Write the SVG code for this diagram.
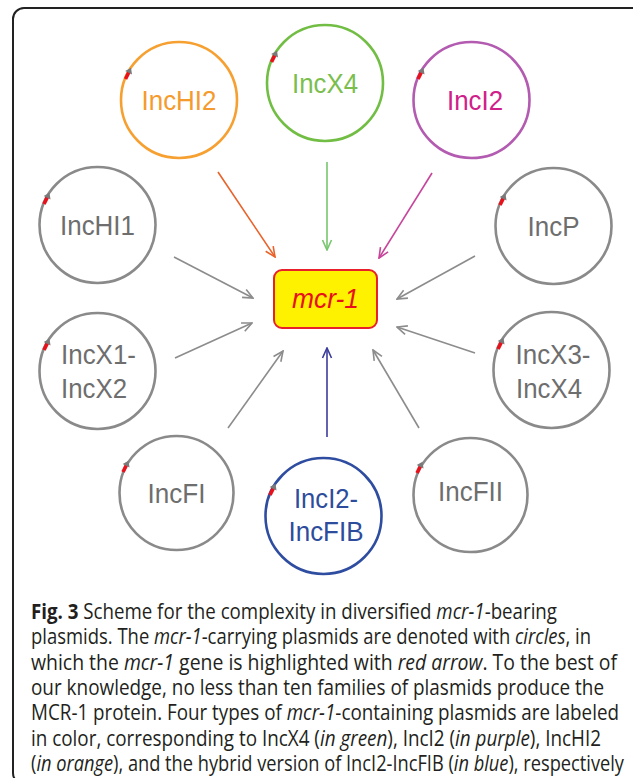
<svg xmlns="http://www.w3.org/2000/svg" width="633" height="778" viewBox="0 0 633 778">
<style>
.c{fill:none;stroke-width:2.6}
.lbl{font-family:"Liberation Sans",Arial,sans-serif;font-size:28px;text-anchor:middle}
.cap{font-family:"Liberation Sans Narrow","Open Sans","Noto Sans",sans-serif;font-size:21px;fill:#231f20}
.e{stroke-width:1.6;fill:none}
</style>
<defs>
<g id="gene">
<rect x="-4.5" y="-1.8" width="8" height="3.6" fill="#e8101a"/>
<path d="M2.5,-3.8 L8,0 L2.5,3.8 Z" fill="#7a7a7a"/>
</g>
<marker id="aO" viewBox="0 0 12 12" refX="11" refY="6" markerWidth="12" markerHeight="12" markerUnits="userSpaceOnUse" orient="auto"><path d="M1,1.5 L11,6 L1,10.5" fill="none" stroke="#e9622a" stroke-width="1.6"/></marker>
<marker id="aG" viewBox="0 0 12 12" refX="11" refY="6" markerWidth="12" markerHeight="12" markerUnits="userSpaceOnUse" orient="auto"><path d="M1,1.5 L11,6 L1,10.5" fill="none" stroke="#77c66e" stroke-width="1.6"/></marker>
<marker id="aP" viewBox="0 0 12 12" refX="11" refY="6" markerWidth="12" markerHeight="12" markerUnits="userSpaceOnUse" orient="auto"><path d="M1,1.5 L11,6 L1,10.5" fill="none" stroke="#c6459b" stroke-width="1.6"/></marker>
<marker id="aY" viewBox="0 0 12 12" refX="11" refY="6" markerWidth="12" markerHeight="12" markerUnits="userSpaceOnUse" orient="auto"><path d="M1,1.5 L11,6 L1,10.5" fill="none" stroke="#8c8c8c" stroke-width="1.6"/></marker>
<marker id="aB" viewBox="0 0 12 12" refX="11" refY="6" markerWidth="12" markerHeight="12" markerUnits="userSpaceOnUse" orient="auto"><path d="M1,1.5 L11,6 L1,10.5" fill="none" stroke="#3b3c9b" stroke-width="1.6"/></marker>
</defs>
<rect x="0" y="0" width="633" height="778" fill="#fff"/>
<rect x="13" y="8" width="632" height="776" rx="11" fill="none" stroke="#222" stroke-width="2"/>

<g id="connectors">
<line class="e" x1="218" y1="172" x2="275" y2="257" stroke="#e9622a" marker-end="url(#aO)"/>
<line class="e" x1="327" y1="162" x2="327" y2="250" stroke="#77c66e" marker-end="url(#aG)"/>
<line class="e" x1="432" y1="173" x2="379" y2="258" stroke="#c6459b" marker-end="url(#aP)"/>
<line class="e" x1="174" y1="257" x2="253" y2="298" stroke="#8c8c8c" marker-end="url(#aY)"/>
<line class="e" x1="175" y1="358" x2="252" y2="323" stroke="#8c8c8c" marker-end="url(#aY)"/>
<line class="e" x1="475" y1="256" x2="397" y2="299" stroke="#8c8c8c" marker-end="url(#aY)"/>
<line class="e" x1="475" y1="353" x2="397" y2="327" stroke="#8c8c8c" marker-end="url(#aY)"/>
<line class="e" x1="228" y1="428" x2="283" y2="351" stroke="#8c8c8c" marker-end="url(#aY)"/>
<line class="e" x1="419" y1="428" x2="373" y2="350" stroke="#8c8c8c" marker-end="url(#aY)"/>
<line class="e" x1="327" y1="437" x2="327" y2="348" stroke="#3b3c9b" marker-end="url(#aB)"/>
</g>

<g id="mcr1">
<rect x="274" y="270" width="103" height="58" rx="8" fill="#fff200" stroke="#e8202a" stroke-width="2"/>
<text x="325.5" y="308" class="lbl" font-style="italic" fill="#e8101a" textLength="67" lengthAdjust="spacingAndGlyphs">mcr-1</text>
</g>

<g id="IncHI2">
<circle class="c" cx="179" cy="100" r="58" stroke="#f7a032"/>
<use href="#gene" transform="translate(127.5,75) rotate(-64)"/>
<text x="179" y="110" class="lbl" fill="#f59b2e" textLength="75" lengthAdjust="spacingAndGlyphs">IncHI2</text>
</g>
<g id="IncX4">
<circle class="c" cx="325" cy="83" r="58" stroke="#72be44"/>
<use href="#gene" transform="translate(273.5,58) rotate(-64)"/>
<text x="325" y="93" class="lbl" fill="#7bbe4e" textLength="66" lengthAdjust="spacingAndGlyphs">IncX4</text>
</g>
<g id="IncI2">
<circle class="c" cx="471.5" cy="100" r="58" stroke="#b35bb0"/>
<use href="#gene" transform="translate(420,75) rotate(-64)"/>
<text x="475" y="110" class="lbl" fill="#d0208a" textLength="56" lengthAdjust="spacingAndGlyphs">IncI2</text>
</g>
<g id="IncHI1">
<circle class="c" cx="97.5" cy="225" r="58" stroke="#8a8a8a"/>
<use href="#gene" transform="translate(46,200) rotate(-64)"/>
<text x="97.5" y="235" class="lbl" fill="#6e6e6e" textLength="75" lengthAdjust="spacingAndGlyphs">IncHI1</text>
</g>
<g id="IncP">
<circle class="c" cx="553.5" cy="226" r="58" stroke="#8a8a8a"/>
<use href="#gene" transform="translate(502,201) rotate(-64)"/>
<text x="553.5" y="236" class="lbl" fill="#6e6e6e" textLength="52" lengthAdjust="spacingAndGlyphs">IncP</text>
</g>
<g id="IncX1-IncX2">
<circle class="c" cx="97.5" cy="371" r="58" stroke="#8a8a8a"/>
<use href="#gene" transform="translate(46,346) rotate(-64)"/>
<text x="98.5" y="364" class="lbl" fill="#6e6e6e" textLength="75" lengthAdjust="spacingAndGlyphs">IncX1-</text>
<text x="94" y="398" class="lbl" fill="#6e6e6e" textLength="66" lengthAdjust="spacingAndGlyphs">IncX2</text>
</g>
<g id="IncX3-IncX4">
<circle class="c" cx="551.5" cy="370" r="58" stroke="#8a8a8a"/>
<use href="#gene" transform="translate(500,345) rotate(-64)"/>
<text x="553" y="364" class="lbl" fill="#6e6e6e" textLength="75" lengthAdjust="spacingAndGlyphs">IncX3-</text>
<text x="549" y="398" class="lbl" fill="#6e6e6e" textLength="66" lengthAdjust="spacingAndGlyphs">IncX4</text>
</g>
<g id="IncFI">
<circle class="c" cx="176.5" cy="493" r="57" stroke="#8a8a8a"/>
<use href="#gene" transform="translate(125,468) rotate(-64)"/>
<text x="176.5" y="503" class="lbl" fill="#6e6e6e" textLength="58" lengthAdjust="spacingAndGlyphs">IncFI</text>
</g>
<g id="IncI2-IncFIB">
<circle class="c" cx="323.5" cy="516" r="58" stroke="#2f4da0"/>
<use href="#gene" transform="translate(272,491) rotate(-64)"/>
<text x="326" y="508" class="lbl" fill="#2d4c9c" textLength="64" lengthAdjust="spacingAndGlyphs">IncI2-</text>
<text x="326" y="541" class="lbl" fill="#2d4c9c" textLength="75" lengthAdjust="spacingAndGlyphs">IncFIB</text>
</g>
<g id="IncFII">
<circle class="c" cx="470.5" cy="495" r="57" stroke="#8a8a8a"/>
<use href="#gene" transform="translate(419,469) rotate(-64)"/>
<text x="470.5" y="501" class="lbl" fill="#6e6e6e" textLength="65" lengthAdjust="spacingAndGlyphs">IncFII</text>
</g>

<g id="caption" class="cap">
<text x="31" y="619" textLength="526" lengthAdjust="spacingAndGlyphs"><tspan font-weight="bold">Fig. 3</tspan> Scheme for the complexity in diversified <tspan font-style="italic">mcr-1</tspan>-bearing</text>
<text x="31" y="644" textLength="560" lengthAdjust="spacingAndGlyphs">plasmids. The <tspan font-style="italic">mcr-1</tspan>-carrying plasmids are denoted with <tspan font-style="italic">circles</tspan>, in</text>
<text x="31" y="669.5" textLength="586" lengthAdjust="spacingAndGlyphs">which the <tspan font-style="italic">mcr-1</tspan> gene is highlighted with <tspan font-style="italic">red arrow</tspan>. To the best of</text>
<text x="31" y="695" textLength="573" lengthAdjust="spacingAndGlyphs">our knowledge, no less than ten families of plasmids produce the</text>
<text x="31" y="720" textLength="588" lengthAdjust="spacingAndGlyphs">MCR-1 protein. Four types of <tspan font-style="italic">mcr-1</tspan>-containing plasmids are labeled</text>
<text x="31" y="745.5" textLength="570" lengthAdjust="spacingAndGlyphs">in color, corresponding to IncX4 (<tspan font-style="italic">in green</tspan>), IncI2 (<tspan font-style="italic">in purple</tspan>), IncHI2</text>
<text x="31" y="771" textLength="593" lengthAdjust="spacingAndGlyphs">(<tspan font-style="italic">in orange</tspan>), and the hybrid version of IncI2-IncFIB (<tspan font-style="italic">in blue</tspan>), respectively</text>
</g>
</svg>
